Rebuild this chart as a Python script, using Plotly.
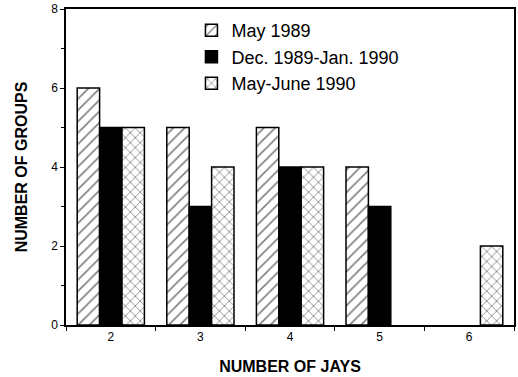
import plotly.graph_objects as go

categories = ["2", "3", "4", "5", "6"]
may_1989 = [6, 5, 5, 4, 0]
dec_1989_jan_1990 = [5, 3, 4, 3, 0]
may_june_1990 = [5, 4, 4, 0, 2]
series_names = ["May 1989", "Dec. 1989-Jan. 1990", "May-June 1990"]
y_ticks = [0, 2, 4, 6, 8]


def outline_widths(values):
    return [1.5 if v else 0 for v in values]


fig = go.Figure()
fig.add_trace(go.Bar(
    x=categories, y=may_1989, name=series_names[0],
    marker=dict(color="white", line=dict(color="black", width=outline_widths(may_1989)),
                pattern=dict(shape="/", fgcolor="black", bgcolor="white", size=8, solidity=0.2)),
))
fig.add_trace(go.Bar(
    x=categories, y=dec_1989_jan_1990, name=series_names[1],
    marker=dict(color="black", line=dict(color="black", width=outline_widths(dec_1989_jan_1990))),
))
fig.add_trace(go.Bar(
    x=categories, y=may_june_1990, name=series_names[2],
    marker=dict(color="white", line=dict(color="black", width=outline_widths(may_june_1990)),
                pattern=dict(shape="x", fgcolor="black", bgcolor="white", size=7, solidity=0.22)),
))

fig.update_layout(
    width=518, height=377,
    margin=dict(l=66, r=2, t=8, b=52),
    plot_bgcolor="white", paper_bgcolor="white",
    barmode="group", bargap=0.25, bargroupgap=0,
    font=dict(family="Liberation Sans, Arial, sans-serif", color="black", size=12),
    legend=dict(x=0.28, y=0.99, xanchor="left", yanchor="top",
                font=dict(size=18), bgcolor="rgba(0,0,0,0)", tracegroupgap=0),
    xaxis=dict(
        type="category", tickson="boundaries", ticks="outside", ticklen=4,
        tickcolor="black", showline=True, linecolor="black", linewidth=1.5,
        mirror=True, showgrid=False,
        title=dict(text="<b>NUMBER OF JAYS</b>", font=dict(size=16), standoff=18),
        tickfont=dict(size=12),
    ),
    yaxis=dict(
        range=[0, 8], tickvals=y_ticks, ticks="outside", ticklen=4, tickcolor="black",
        showline=True, linecolor="black", linewidth=1.5, mirror=True,
        showgrid=False, zeroline=False,
        minor=dict(dtick=1, ticks="outside", ticklen=3, tickcolor="black"),
        title=dict(text="<b>NUMBER OF GROUPS</b>", font=dict(size=16), standoff=20),
        tickfont=dict(size=12),
    ),
)

fig.write_html("out.html")
